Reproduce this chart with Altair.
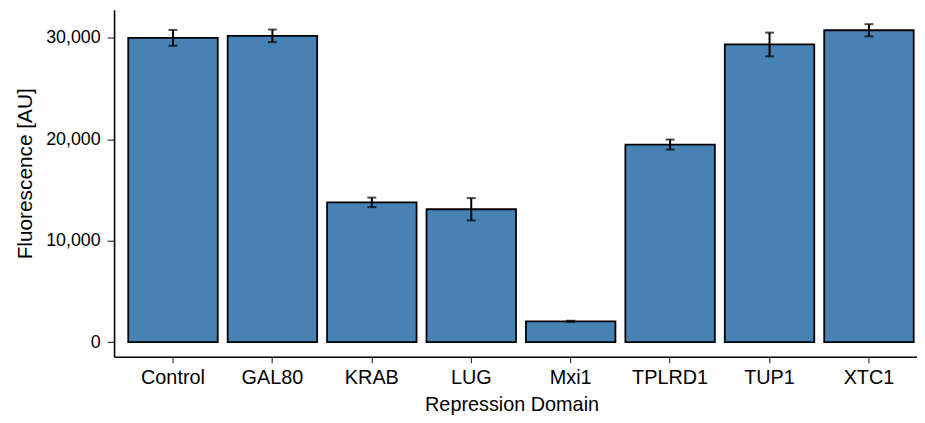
import altair as alt
import pandas as pd

domains = ["Control", "GAL80", "KRAB", "LUG", "Mxi1", "TPLRD1", "TUP1", "XTC1"]
means = [30000, 30200, 13780, 13100, 2050, 19480, 29350, 30750]
errors = [780, 620, 470, 1100, 60, 490, 1170, 600]
y_ticks = [0, 10000, 20000, 30000]

df = pd.DataFrame({"domain": domains, "mean": means, "err": errors})
df["lo"] = df["mean"] - df["err"]
df["hi"] = df["mean"] + df["err"]

FONT = "Liberation Sans"

x_axis = alt.Axis(
    labelAngle=0,
    labelFontSize=20,
    titleFontSize=20,
    labelPadding=5,
    titlePadding=7,
    tickSize=6,
    titleX=401,
)
x_scale = alt.Scale(paddingInner=0.1, paddingOuter=0.0879, align=0.811)
y_scale = alt.Scale(domain=[-1440, 32770], nice=False, zero=False)
y_axis = alt.Axis(
    values=y_ticks,
    format=",.0f",
    labelFontSize=18,
    tickSize=7,
    labelPadding=7,
    titleFontSize=21,
    titleX=-83,
    titleY=165,
    titleBaseline="alphabetic",
)


def xe():
    return alt.X("domain:N", sort=domains, title="Repression Domain", scale=x_scale, axis=x_axis)


def ye(field):
    return alt.Y(field, title="Fluorescence [AU]", scale=y_scale, axis=y_axis)


base = alt.Chart(df)
bars = base.mark_bar(fill="#4682B4", stroke="black", strokeWidth=1.8).encode(
    x=xe(), y=ye("mean:Q")
)
rules = base.mark_rule(color="black", strokeWidth=2).encode(
    x=xe(), y=ye("lo:Q"), y2="hi:Q"
)
cap_lo = base.mark_tick(color="black", size=9, thickness=2).encode(x=xe(), y=ye("lo:Q"))
cap_hi = base.mark_tick(color="black", size=9, thickness=2).encode(x=xe(), y=ye("hi:Q"))

chart = (
    alt.layer(bars, rules, cap_lo, cap_hi)
    .properties(
        width=810,
        height=350,
        autosize=alt.AutoSizeParams(type="none"),
        padding={"left": 107, "top": 0, "right": 0, "bottom": 57},
    )
    .configure_view(stroke=None)
    .configure_axis(
        grid=False,
        domainColor="black",
        domainWidth=1.6,
        tickColor="#333333",
        tickWidth=1.2,
        labelColor="black",
        titleColor="black",
        labelFont=FONT,
        titleFont=FONT,
        titleFontWeight="normal",
    )
)

chart.save("out.html", embed_options={"renderer": "svg", "actions": False})
